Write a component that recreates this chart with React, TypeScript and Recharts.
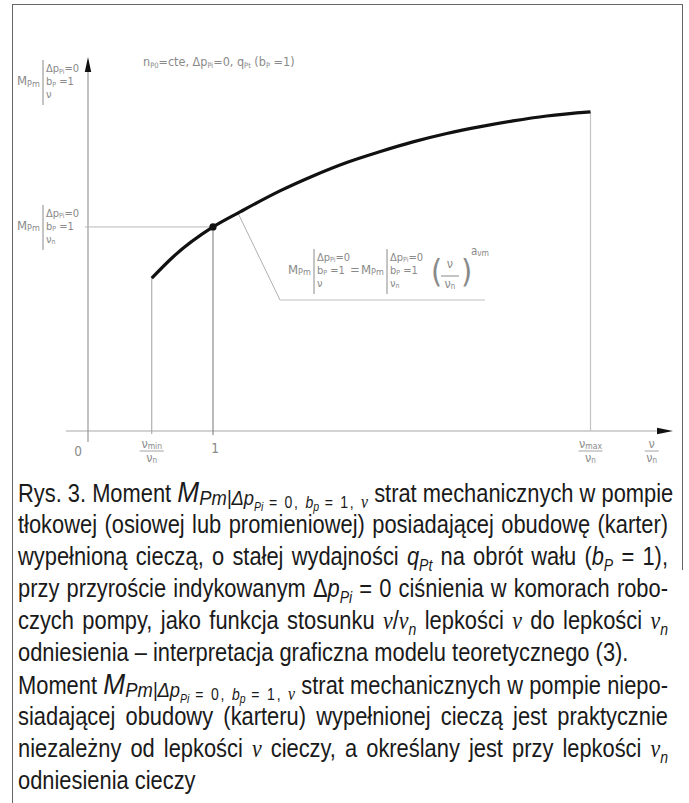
import React from "react";
import {
  ComposedChart,
  Line,
  XAxis,
  YAxis,
  ReferenceLine,
  ReferenceDot,
} from "recharts";

// ---- data ----
const viscosityRatio = [0.51, 0.68, 1.0, 1.22, 1.54, 1.8, 2.07, 2.34, 2.6, 2.87, 3.14, 3.4, 3.67, 4.02];
const momentRatio = [0.749, 0.853, 1.0, 1.075, 1.178, 1.25, 1.316, 1.37, 1.417, 1.458, 1.492, 1.52, 1.544, 1.564];
const xTickValues = [0, 0.51, 1, 4.02, 4.51];
const xTickNames = ["0", "min", "1", "max", "ratio"];
const vMin = 0.51;
const vMax = 4.02;
const mAtMin = 0.749;
const mAtMax = 1.564;
const xDomain: [number, number] = [-0.176, 4.68];
const yDomain: [number, number] = [-0.054, 1.833];

const data = viscosityRatio.map((x, i) => ({ x, y: momentRatio[i] }));

const GRAY = "#8a8a8a";
const DFONT = "'Liberation Sans Narrow', 'DejaVu Sans Condensed', 'Liberation Sans', sans-serif";

const Sub = ({ children, size = 8, dy = 2 }: any) => (
  <tspan fontSize={size} dy={dy}>
    {children}
  </tspan>
);

// M_Pm | three stacked conditions
const MBlock = ({ x, y, lines }: { x: number; y: number; lines: any[] }) => (
  <g fontFamily={DFONT} fill={GRAY}>
    <text x={x} y={y} fontSize={13}>
      M<tspan fontSize={9} dy={1.5}>Pm</tspan>
    </text>
    <line x1={x + 26} x2={x + 26} y1={y - 25} y2={y + 20} stroke={GRAY} strokeWidth={1} />
    <text x={x + 29} y={y - 13} fontSize={11}>{lines[0]}</text>
    <text x={x + 29} y={y} fontSize={11}>{lines[1]}</text>
    <text x={x + 29} y={y + 13} fontSize={11}>{lines[2]}</text>
  </g>
);

const dpLine = (
  <>
    Δp<Sub size={7} dy={1.5}>Pi</Sub>
    <tspan dy={-1.5}>=0</tspan>
  </>
);
const bLine = (
  <>
    b<Sub size={7} dy={1.5}>P</Sub>
    <tspan dy={-1.5}> =1</tspan>
  </>
);
const nuLine = <>ν</>;
const nunLine = (
  <>
    ν<Sub size={7} dy={1.5}>n</Sub>
  </>
);

const TopLeftLabel = (p: any) => <MBlock x={p.cx - 71} y={p.cy + 28} lines={[dpLine, bLine, nuLine]} />;
const MidLabel = (p: any) => <MBlock x={p.cx - 71} y={p.cy + 3} lines={[dpLine, bLine, nunLine]} />;

const FormulaLabel = (p: any) => {
  const x = p.cx + 8;
  const y = p.cy - 26;
  return (
    <g>
      <MBlock x={x} y={y} lines={[dpLine, bLine, nuLine]} />
      <text x={x + 62} y={y} fontSize={13} fontFamily={DFONT} fill={GRAY}>
        =
      </text>
      <MBlock x={x + 73} y={y} lines={[dpLine, bLine, nunLine]} />
      <text x={x + 143} y={y + 8} fontSize={32} fontFamily={DFONT} fill={GRAY} fontWeight={200}>
        (
      </text>
      <text x={x + 162} y={y - 6} fontSize={12.5} fontFamily={DFONT} fill={GRAY} textAnchor="middle">
        ν
      </text>
      <line x1={x + 153} x2={x + 171} y1={y + 2} y2={y + 2} stroke={GRAY} strokeWidth={1} />
      <text x={x + 162} y={y + 14} fontSize={12.5} fontFamily={DFONT} fill={GRAY} textAnchor="middle">
        ν<tspan fontSize={8} dy={1}>n</tspan>
      </text>
      <text x={x + 173} y={y + 8} fontSize={32} fontFamily={DFONT} fill={GRAY} fontWeight={200}>
        )
      </text>
      <text x={x + 183} y={y - 19} fontSize={11.5} fontFamily={DFONT} fill={GRAY}>
        a<tspan fontSize={8.5} dy={1}>νm</tspan>
      </text>
    </g>
  );
};

const SubTitle = (p: any) => (
  <text x={p.cx + 55} y={p.cy + 9} fontSize={12.5} fontFamily={DFONT} fill={GRAY}>
    n<Sub size={7.5}>P0</Sub>
    <tspan dy={-2}>=cte, Δp</tspan>
    <Sub size={7.5}>Pi</Sub>
    <tspan dy={-2}>=0, q</tspan>
    <Sub size={7.5}>Pt</Sub>
    <tspan dy={-2}> (b</tspan>
    <Sub size={7.5}>P</Sub>
    <tspan dy={-2}> =1)</tspan>
  </text>
);

const XArrow = (p: any) => (
  <polygon points={`${p.cx},${p.cy} ${p.cx - 16},${p.cy - 3.2} ${p.cx - 16},${p.cy + 3.2}`} fill="#111" />
);
const YArrow = (p: any) => (
  <polygon points={`${p.cx},${p.cy} ${p.cx - 3.2},${p.cy + 15} ${p.cx + 3.2},${p.cy + 15}`} fill="#111" />
);

const Frac = ({ x, y, sub }: any) => (
  <g fontFamily={DFONT} fill={GRAY}>
    <text x={x} y={y + 6} fontSize={12.5} textAnchor="middle">
      ν<tspan fontSize={8.5} dy={1}>{sub}</tspan>
    </text>
    <line x1={x - 12} x2={x + 12} y1={y + 9} y2={y + 9} stroke={GRAY} strokeWidth={0.8} />
    <text x={x} y={y + 20} fontSize={12.5} textAnchor="middle">
      ν<tspan fontSize={8} dy={1}>n</tspan>
    </text>
  </g>
);

const XTick = (props: any) => {
  const { x, y, payload, index } = props;
  const name = xTickNames[index] ?? xTickNames[xTickValues.indexOf(payload.value)];
  if (name === "0")
    return (
      <text x={x - 10} y={y + 14} fontSize={13.5} fontFamily={DFONT} fill={GRAY} textAnchor="middle">
        0
      </text>
    );
  if (name === "1")
    return (
      <text x={x + 2} y={y + 11} fontSize={13.5} fontFamily={DFONT} fill={GRAY} textAnchor="middle">
        1
      </text>
    );
  if (name === "min") return <Frac x={x} y={y} sub="min" />;
  if (name === "max") return <Frac x={x} y={y} sub="max" />;
  if (name === "ratio")
    return (
      <g fontFamily={DFONT} fill={GRAY}>
        <text x={x} y={y + 6} fontSize={12.5} textAnchor="middle">ν</text>
        <line x1={x - 7} x2={x + 7} y1={y + 9} y2={y + 9} stroke={GRAY} strokeWidth={0.8} />
        <text x={x} y={y + 20} fontSize={12.5} textAnchor="middle">
          ν<tspan fontSize={8} dy={1}>n</tspan>
        </text>
      </g>
    );
  return null;
};

const SCALE_X = 0.875;
const capStyle: React.CSSProperties = {
  textAlign: "justify",
  textAlignLast: "justify",
  height: 32,
  whiteSpace: "nowrap",
};
const capLeft: React.CSSProperties = { height: 32, whiteSpace: "nowrap" };
const it: React.CSSProperties = { fontStyle: "italic" };
const nu: React.CSSProperties = { fontFamily: "'Liberation Serif', serif", fontStyle: "italic" };
const sub = (size: number, down: number): React.CSSProperties => ({
  fontSize: size,
  position: "relative",
  top: down,
  fontStyle: "italic",
});
const small: React.CSSProperties = { fontSize: 16, position: "relative", top: 6, letterSpacing: 2 };

const MSub = () => (
  <span>
    <span style={{ ...it, fontSize: 30 }}>M</span>
    <span style={sub(21, 3)}>Pm|Δp</span>
    <span style={sub(12, 9)}>Pi</span>
    <span style={small}> = 0, </span>
    <span style={sub(16, 6)}>b</span>
    <span style={sub(12, 9)}>p</span>
    <span style={small}> = 1, </span>
    <span style={{ ...nu, fontSize: 18, position: "relative", top: 6 }}>ν</span>
  </span>
);

export default function App() {
  return (
    <div style={{ position: "relative", width: 689, height: 803, background: "#fff", overflow: "hidden" }}>
      <style>{`body{margin:0;}`}</style>
      {/* frame */}
      <div style={{ position: "absolute", left: 12, top: 4, width: 671, height: 1, background: "#666" }} />
      <div style={{ position: "absolute", left: 12, top: 4, width: 1, height: 799, background: "#666" }} />
      <div style={{ position: "absolute", left: 682, top: 4, width: 1, height: 566, background: "#666" }} />

      <div style={{ position: "absolute", left: 0, top: 0 }}>
        <ComposedChart
          width={689}
          height={480}
          data={data}
          margin={{ top: 57, right: 16, bottom: 8, left: 66 }}
        >
          <XAxis
            type="number"
            dataKey="x"
            domain={xDomain}
            allowDataOverflow
            ticks={xTickValues}
            interval={0}
            axisLine={false}
            tickLine={false}
            tickSize={0}
            tickMargin={0}
            height={30}
            tick={<XTick />}
          />
          <YAxis type="number" domain={yDomain} allowDataOverflow hide width={0} />

          {/* axes */}
          <ReferenceLine segment={[{ x: xDomain[0], y: 0 }, { x: 4.55, y: 0 }]} stroke="#a8a8a8" strokeWidth={1.2} ifOverflow="visible" />
          <ReferenceLine segment={[{ x: 0, y: yDomain[0] }, { x: 0, y: 1.77 }]} stroke="#9a9a9a" strokeWidth={1.2} ifOverflow="visible" />
          <ReferenceDot x={xDomain[1]} y={0} r={0} shape={XArrow} ifOverflow="visible" />
          <ReferenceDot x={0} y={yDomain[1]} r={0} shape={YArrow} ifOverflow="visible" />

          {/* guide lines */}
          <ReferenceLine segment={[{ x: vMin, y: -0.015 }, { x: vMin, y: mAtMin }]} stroke="#a0a0a0" strokeWidth={1} ifOverflow="visible" />
          <ReferenceLine segment={[{ x: 1, y: -0.02 }, { x: 1, y: 1 }]} stroke="#777" strokeWidth={1} ifOverflow="visible" />
          <ReferenceLine segment={[{ x: vMax, y: 0 }, { x: vMax, y: mAtMax }]} stroke="#c4c4c4" strokeWidth={1.2} ifOverflow="visible" />
          <ReferenceLine segment={[{ x: -0.025, y: 1 }, { x: 1, y: 1 }]} stroke="#b8b8b8" strokeWidth={1} ifOverflow="visible" />

          {/* leader for the formula */}
          <ReferenceLine segment={[{ x: 1.2, y: 1.068 }, { x: 1.536, y: 0.642 }]} stroke="#b0b0b0" strokeWidth={1} ifOverflow="visible" />
          <ReferenceLine segment={[{ x: 1.536, y: 0.642 }, { x: 3.176, y: 0.642 }]} stroke="#c0c0c0" strokeWidth={1.2} ifOverflow="visible" />

          <Line
            type="monotone"
            dataKey="y"
            stroke="#111"
            strokeWidth={3.2}
            dot={false}
            isAnimationActive={false}
          />
          <ReferenceDot x={1} y={1} r={3.6} fill="#111" stroke="none" ifOverflow="visible" />

          {/* labels */}
          <ReferenceDot x={0} y={yDomain[1]} r={0} shape={TopLeftLabel} ifOverflow="visible" />
          <ReferenceDot x={0} y={yDomain[1]} r={0} shape={SubTitle} ifOverflow="visible" />
          <ReferenceDot x={0} y={1} r={0} shape={MidLabel} ifOverflow="visible" />
          <ReferenceDot x={1.536} y={0.642} r={0} shape={FormulaLabel} ifOverflow="visible" />
        </ComposedChart>
      </div>

      {/* caption */}
      <div
        style={{
          position: "absolute",
          left: 18,
          top: 476,
          width: 650 / SCALE_X,
          transform: `scaleX(${SCALE_X})`,
          transformOrigin: "0 0",
          fontFamily: "'Liberation Sans', Arial, sans-serif",
          fontSize: 25,
          lineHeight: "32px",
          color: "#1a1a1a",
        }}
      >
        <div style={capStyle}>
          Rys. 3. Moment <MSub /> strat mechanicznych w pompie
        </div>
        <div style={capStyle}>tłokowej (osiowej lub promieniowej) posiadającej obudowę (karter)</div>
        <div style={capStyle}>
          wypełnioną cieczą, o stałej wydajności <span style={it}>q</span>
          <span style={sub(16, 6)}>Pt</span> na obrót wału (<span style={it}>b</span>
          <span style={sub(16, 6)}>P</span> = 1),
        </div>
        <div style={capStyle}>
          przy przyroście indykowanym Δ<span style={it}>p</span>
          <span style={sub(16, 6)}>Pi</span> = 0 ciśnienia w komorach robo-
        </div>
        <div style={capStyle}>
          czych pompy, jako funkcja stosunku <span style={nu}>ν</span>/<span style={nu}>ν</span>
          <span style={sub(16, 6)}>n</span> lepkości <span style={nu}>ν</span> do lepkości{" "}
          <span style={nu}>ν</span>
          <span style={sub(16, 6)}>n</span>
        </div>
        <div style={capLeft}>odniesienia – interpretacja graficzna modelu teoretycznego (3).</div>
        <div style={capStyle}>
          Moment <MSub /> strat mechanicznych w pompie niepo-
        </div>
        <div style={capStyle}>siadającej obudowy (karteru) wypełnionej cieczą jest praktycznie</div>
        <div style={capStyle}>
          niezależny od lepkości <span style={nu}>ν</span> cieczy, a określany jest przy lepkości{" "}
          <span style={nu}>ν</span>
          <span style={sub(16, 6)}>n</span>
        </div>
        <div style={capLeft}>odniesienia cieczy</div>
      </div>
    </div>
  );
}
